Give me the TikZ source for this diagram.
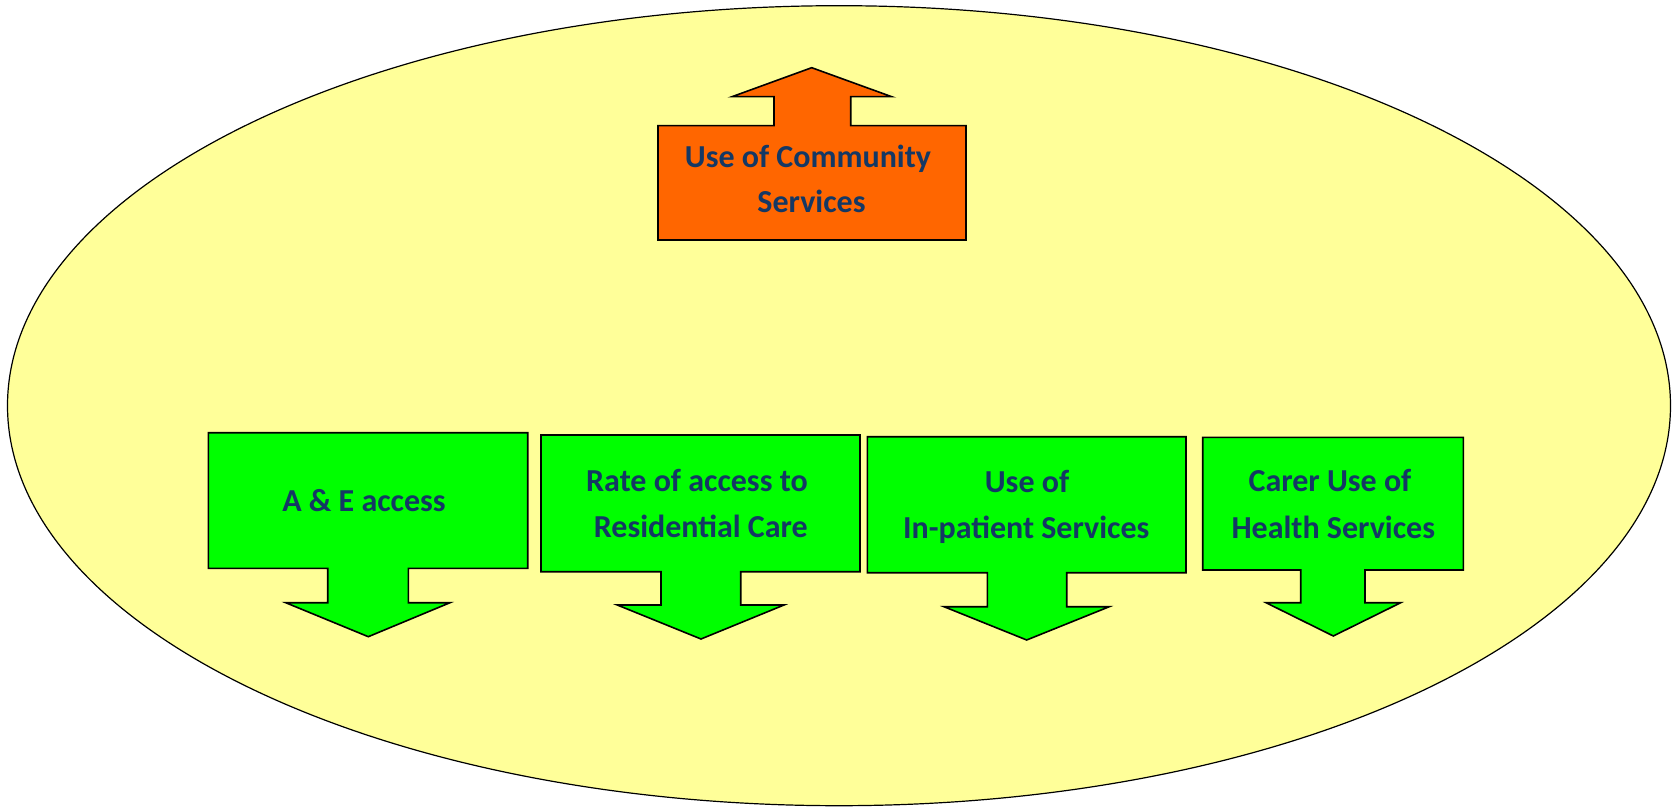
\documentclass[tikz,border=0pt]{standalone}
\usepackage{fontspec}
\setmainfont{Carlito}
\definecolor{bgyellow}{HTML}{FFFF99}
\definecolor{boxgreen}{HTML}{00FF00}
\definecolor{boxorange}{HTML}{FF6600}
\definecolor{txtblue}{RGB}{20,56,100}
\begin{document}
\begin{tikzpicture}[x=0.5pt,y=-0.5pt,
  shapeline/.style={draw=black,line width=0.8pt,line join=miter},
  lbl/.style={anchor=base,inner sep=0pt,text=txtblue,font=\fontsize{16}{23}\selectfont\bfseries}]
\useasboundingbox (0,0) rectangle (1678,808);
% background ellipse
\draw[shapeline,line width=0.6pt,fill=bgyellow] (839,405.7) ellipse [x radius=831.5, y radius=400];
% orange up arrow
\draw[shapeline,fill=boxorange] (658,125.7) -- (774,125.7) -- (774,96.7) -- (732,96.7) -- (811.7,67.7) -- (891.7,96.7) -- (850.7,96.7) -- (850.7,125.7) -- (966,125.7) -- (966,240) -- (658,240) -- cycle;
\node[lbl] (c1) at (808,167.3) {Use of Community};
\node[lbl] (c2) at (811.5,213) {Services};
% green box 1
\draw[shapeline,fill=boxgreen] (208.3,432.7) -- (527.7,432.7) -- (527.7,568.3) -- (408.3,568.3) -- (408.3,602.7) -- (450,602.7) -- (368.3,636.7) -- (285.7,602.7) -- (327.7,602.7) -- (327.7,568.3) -- (208.3,568.3) -- cycle;
\node[lbl] (a1) at (364,511.7) {A \& E access};
% green box 2
\draw[shapeline,fill=boxgreen] (541,435) -- (860,435) -- (860,571.7) -- (740.7,571.7) -- (740.7,605) -- (784,605) -- (701,639) -- (617.3,605) -- (661,605) -- (661,571.7) -- (541,571.7) -- cycle;
\node[lbl] (r1) at (697,491.7) {Rate of access to};
\node[lbl] (r2) at (700.8,537.7) {Residential Care};
% green box 3
\draw[shapeline,fill=boxgreen] (867.3,436.7) -- (1186,436.7) -- (1186,572.7) -- (1066.7,572.7) -- (1066.7,606.7) -- (1109.3,606.7) -- (1026.7,640) -- (944,606.7) -- (987.3,606.7) -- (987.3,572.7) -- (867.3,572.7) -- cycle;
\node[lbl] (i1) at (1027,492.7) {Use of};
\node[lbl] (i2) at (1026.3,538) {In-patient Services};
% green box 4
\draw[shapeline,fill=boxgreen] (1202.7,437.3) -- (1463.3,437.3) -- (1463.3,570) -- (1365,570) -- (1365,602.7) -- (1400.7,602.7) -- (1333.3,636) -- (1266,602.7) -- (1300.7,602.7) -- (1300.7,570) -- (1202.7,570) -- cycle;
\node[lbl] (h1) at (1330,491.7) {Carer Use of};
\node[lbl] (h2) at (1333.3,538) {Health Services};
\end{tikzpicture}
\end{document}
